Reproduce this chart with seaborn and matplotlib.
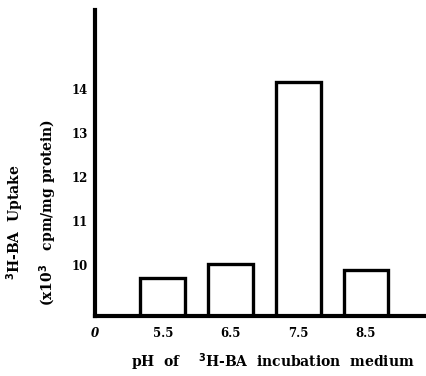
import pandas as pd
import matplotlib.pyplot as plt
import seaborn as sns

# data
ph_labels = ["0", "5.5", "6.5", "7.5", "8.5"]
bar_ph = ["5.5", "6.5", "7.5", "8.5"]
uptake = [9.70, 10.02, 14.16, 9.89]
y_ticks = [10, 11, 12, 13, 14]

df = pd.DataFrame({"ph": bar_ph, "uptake": uptake})

sns.set_style("white")
plt.rcParams['font.family'] = ['DejaVu Serif']
plt.rcParams['font.weight'] = 'bold'
plt.rcParams['text.color'] = 'black'
plt.rcParams['xtick.color'] = 'black'
plt.rcParams['ytick.color'] = 'black'

fig = plt.figure(figsize=(4.27, 3.76), dpi=100)
ax = fig.add_axes([0.2225, 0.1596, 0.7725, 0.8138])

sns.barplot(data=df, x="ph", y="uptake", order=ph_labels,
            color="white", edgecolor="black", linewidth=2.4,
            width=0.66, ax=ax)

ax.set_xlim(0, 4.87)
ax.set_ylim(8.84, 15.8)

ax.set_yticks(y_ticks)
ax.set_yticklabels([str(t) for t in y_ticks], fontsize=8.5, fontweight='bold')
ax.tick_params(axis='y', direction='inout', length=8, width=1.5, pad=1)
ax.tick_params(axis='x', length=0, pad=8)
ax.set_xticks(range(len(ph_labels)))
ax.set_xticklabels(ph_labels, fontsize=8.5, fontweight='bold')
ax.get_xticklabels()[0].set_fontstyle('italic')

for side in ['top', 'right']:
    ax.spines[side].set_visible(False)
for side in ['left', 'bottom']:
    ax.spines[side].set_linewidth(3)
    ax.spines[side].set_color('black')

ax.set_xlabel("")
ax.set_ylabel("")

fig.text(0.035, 0.41, r"$^{3}$H-BA  Uptake", rotation=90, ha='center', va='center',
         fontsize=10, fontweight='bold')
fig.text(0.114, 0.436, r"(x10$^{3}$   cpm/mg protein)", rotation=90, ha='center', va='center',
         fontsize=10, fontweight='bold')
fig.text(0.64, 0.037, r"pH  of    $^{3}$H-BA  incubation  medium", ha='center', va='center',
         fontsize=10, fontweight='bold')

plt.savefig("out.png", dpi=100)
plt.close()
